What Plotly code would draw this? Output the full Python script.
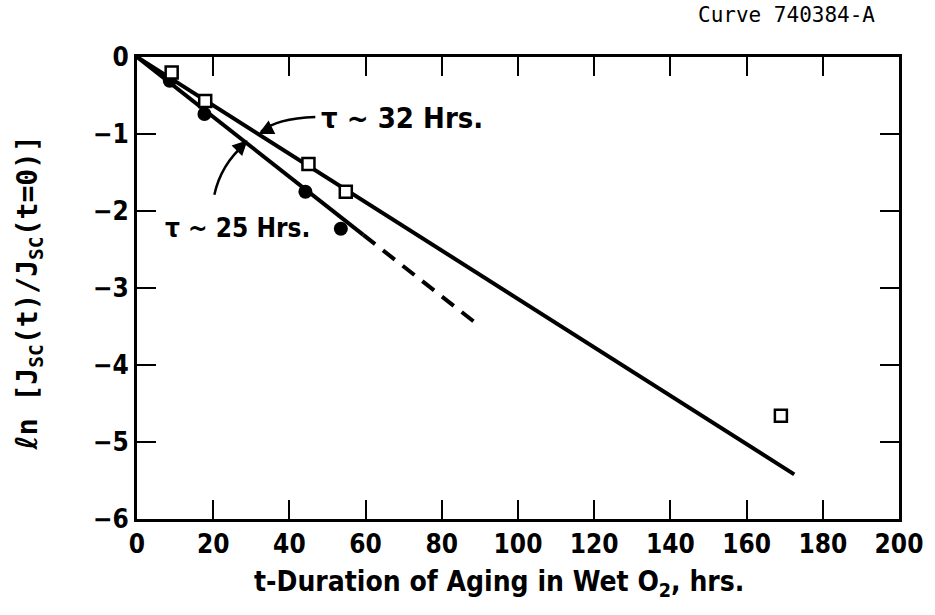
import plotly.graph_objects as go

# Data
sq_t = [9.1, 17.9, 45.0, 54.8, 169.0]
sq_y = [-0.20, -0.57, -1.39, -1.75, -4.66]

ci_t = [8.6, 17.7, 44.2, 53.5]
ci_y = [-0.31, -0.74, -1.75, -2.23]

fit32_t = [0.0, 172.5]
fit32_y = [0.0, -5.42]
fit25_t = [0.0, 59.4]
fit25_y = [0.0, -2.31]
fit25x_t = [59.4, 88.5]
fit25x_y = [-2.31, -3.44]

x_ticks = [0, 20, 40, 60, 80, 100, 120, 140, 160, 180, 200]
y_ticks = [0, -1, -2, -3, -4, -5, -6]

FONT = "DejaVu Sans Condensed"
MONO = "DejaVu Sans Mono, monospace"

fig = go.Figure()
line_style = dict(color="black", width=4)
fig.add_trace(go.Scatter(x=fit32_t, y=fit32_y, mode="lines", line=line_style, showlegend=False))
fig.add_trace(go.Scatter(x=fit25_t, y=fit25_y, mode="lines", line=line_style, showlegend=False))
fig.add_trace(go.Scatter(x=fit25x_t, y=fit25x_y, mode="lines",
                         line=dict(color="black", width=4, dash="15px,10px"), showlegend=False))
fig.add_trace(go.Scatter(x=ci_t, y=ci_y, mode="markers",
                         marker=dict(symbol="circle", size=14, color="black"), showlegend=False))
fig.add_trace(go.Scatter(x=sq_t, y=sq_y, mode="markers",
                         marker=dict(symbol="square", size=12, color="white",
                                     line=dict(color="black", width=2.5)), showlegend=False))

axis_common = dict(showline=True, linecolor="black", linewidth=3, mirror="ticks",
                   ticks="inside", ticklen=19, tickwidth=2, tickcolor="black",
                   showgrid=False, zeroline=False,
                   tickfont=dict(family=FONT, size=26, color="black", weight="bold"))
fig.update_xaxes(range=[0, 200], tickvals=x_ticks, **axis_common)
fig.update_yaxes(range=[-6, 0], tickvals=y_ticks, **axis_common)

# curved arrows
fig.add_shape(type="path", path="M 46.8,-0.78 Q 36.5,-0.80 32.6,-0.97",
              line=dict(color="black", width=2.5))
fig.add_shape(type="path", path="M 20.3,-1.79 Q 22.0,-1.40 28.3,-1.13",
              line=dict(color="black", width=2.5))
fig.add_annotation(x=31.9, y=-1.0, ax=12, ay=-6, text="", showarrow=True,
                   arrowhead=2, arrowsize=1.2, arrowwidth=2.5, arrowcolor="black")
fig.add_annotation(x=29.0, y=-1.08, ax=-10, ay=10, text="", showarrow=True,
                   arrowhead=2, arrowsize=1.2, arrowwidth=2.5, arrowcolor="black")

fig.add_annotation(x=47.7, y=-0.79, text="τ ~ 32 Hrs.", showarrow=False,
                   xanchor="left", yanchor="middle",
                   font=dict(family=FONT, size=29, color="black", weight="bold"))
fig.add_annotation(x=6.8, y=-2.22, text="τ ~ 25 Hrs.", showarrow=False,
                   xanchor="left", yanchor="middle",
                   font=dict(family=FONT, size=26, color="black", weight="bold"))

# titles as annotations
fig.add_annotation(xref="paper", yref="paper", x=0.475, y=-0.139,
                   text="t-Duration of Aging in Wet O<sub>2</sub>, hrs.", showarrow=False,
                   xanchor="center", yanchor="middle",
                   font=dict(family=FONT, size=28, color="black", weight="bold"))
fig.add_annotation(xref="paper", yref="paper", x=-0.142, y=0.49, textangle=-90,
                   text=("<span style=\"font-family:DejaVu Sans;font-size:30px\"><i>ℓ</i></span>"
                         "n [J<sub>SC</sub>(t)/J<sub>SC</sub>(t=0)]"),
                   showarrow=False, xanchor="center", yanchor="middle",
                   font=dict(family=MONO, size=28, color="black", weight="bold"))
fig.add_annotation(xref="paper", yref="paper", x=1.0, y=1.0, yshift=42, xshift=-22,
                   text="Curve 740384-A", showarrow=False,
                   xanchor="right", yanchor="middle",
                   font=dict(family=MONO, size=21, color="black"))

fig.update_layout(width=935, height=615, margin=dict(l=137, r=30, t=57, b=96),
                  plot_bgcolor="white", paper_bgcolor="white")
fig.write_html("out.html")
